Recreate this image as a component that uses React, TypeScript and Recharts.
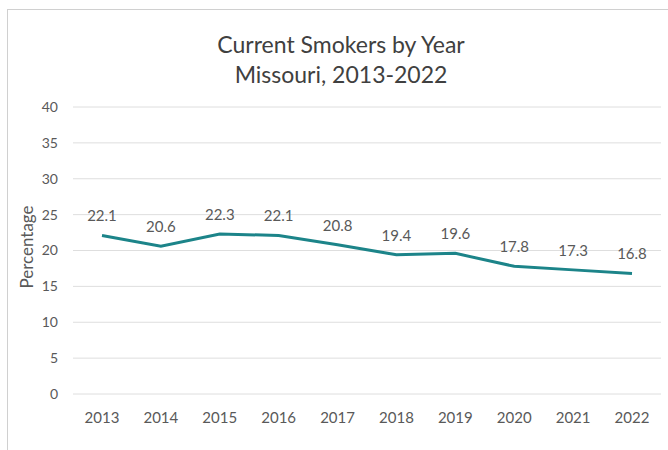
import React from 'react';
import { LineChart, Line, XAxis, YAxis, CartesianGrid, LabelList } from 'recharts';

const years = ['2013', '2014', '2015', '2016', '2017', '2018', '2019', '2020', '2021', '2022'];
const smokers = [22.1, 20.6, 22.3, 22.1, 20.8, 19.4, 19.6, 17.8, 17.3, 16.8];
const yTicks = [0, 5, 10, 15, 20, 25, 30, 35, 40];

const data = years.map((y, i) => ({ year: y, value: smokers[i] }));

const FONT = 'Lato, "Open Sans", sans-serif';

export default function App() {
  return (
    <div style={{ position: 'absolute', left: 0, top: 0, width: 668, height: 450, background: '#fff', overflow: 'hidden', fontFamily: FONT }}>
      <div style={{ position: 'absolute', left: 7, top: 9, width: 700, height: 480, border: '1px solid #d0d0d0', boxSizing: 'border-box' }} />
      <div style={{ position: 'absolute', left: 0, top: 29, width: 682, textAlign: 'center', fontSize: 23, lineHeight: '30px', color: '#404040' }}>
        <div>Current Smokers by Year</div>
        <div>Missouri, 2013-2022</div>
      </div>
      <div style={{ position: 'absolute', left: 26, top: 247, width: 0, height: 0 }}>
        <div style={{ position: 'absolute', left: 0, top: 0, transform: 'translate(-50%, -50%) rotate(-90deg)', fontSize: 17, color: '#595959', whiteSpace: 'nowrap' }}>Percentage</div>
      </div>
      <div style={{ position: 'absolute', left: 0, top: 0 }}>
        <LineChart width={668} height={450} data={data} margin={{ top: 107, right: 7, bottom: 26, left: 0 }}>
          <CartesianGrid vertical={false} stroke="#dedede" strokeWidth={1} />
          <XAxis
            dataKey="year"
            axisLine={false}
            tickLine={false}
            padding={{ left: 29, right: 29 }}
            height={30}
            tickMargin={12}
            tick={{ fill: '#595959', fontSize: 15, fontFamily: FONT }}
            interval={0}
          />
          <YAxis
            domain={[0, 40]}
            ticks={yTicks}
            axisLine={false}
            tickLine={false}
            width={73}
            tickMargin={9}
            tick={{ fill: '#595959', fontSize: 14, fontFamily: FONT }}
          />
          <Line
            type="linear"
            dataKey="value"
            stroke="#1c8489"
            strokeWidth={3}
            dot={false}
            isAnimationActive={false}
          >
            <LabelList dataKey="value" position="top" offset={14} fill="#595959" fontSize={15} fontFamily={FONT} />
          </Line>
        </LineChart>
      </div>
    </div>
  );
}
